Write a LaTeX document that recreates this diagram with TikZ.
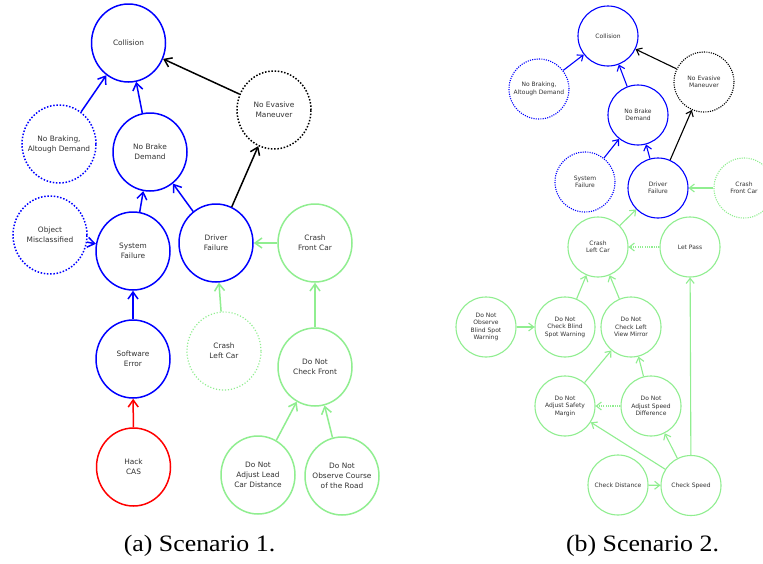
\documentclass[tikz,border=0pt]{standalone}
\usepackage{fontspec}
\setmainfont{Liberation Serif}
\newfontfamily\nodefont{DejaVu Sans}
\usetikzlibrary{shapes.geometric,arrows.meta}
\definecolor{cblue}{RGB}{0,0,255}
\definecolor{cgreen}{RGB}{144,238,144}
\definecolor{cred}{RGB}{255,0,0}
\definecolor{cblack}{RGB}{0,0,0}
\definecolor{txtgray}{RGB}{50,50,50}
\tikzset{
  ltxt/.style={align=center,text=txtgray,inner sep=0pt,font=\nodefont\fontsize{7.4}{10}\selectfont},
  rtxt/.style={align=center,text=txtgray,inner sep=0pt,font=\nodefont\fontsize{6}{7.5}\selectfont},
  L/.style={ellipse,draw,minimum width=74pt,minimum height=78pt,inner sep=0pt,line width=1.5pt,
    label={[ltxt]center:{#1}}},
  R/.style={circle,draw,minimum size=60pt,inner sep=0pt,line width=1.1pt,
    label={[rtxt]center:{#1}}},
  ldot/.style={dash pattern=on 1.5pt off 1.7pt},
  ldotg/.style={dash pattern=on 1.1pt off 1.9pt,line width=1.2pt},
  rdot/.style={dash pattern=on 1.1pt off 1.2pt},
  la/.style={line width=1.5pt,-{Straight Barb[length=7pt,width=10pt]}},
  ra/.style={line width=1.1pt,-{Straight Barb[length=5pt,width=8pt]}},
  captext/.style={anchor=base,inner sep=0pt,font=\fontsize{23.5}{28}\selectfont},
}
\begin{document}
\begin{tikzpicture}[x=1pt,y=-1pt]
\clip (0,0) rectangle (763,563);
\fill[white] (0,0) rectangle (763,563);
% ---------------- Scenario 1 ----------------
\node[L={Collision},draw=cblue] (col) at (128.5,43) {};
\node[L={No Braking,\\Altough Demand},draw=cblue,ldot] (nbd) at (59,144) {};
\node[L={No Evasive\\Maneuver},draw=cblack,ldot] (nev) at (274,110) {};
\node[L={No Brake\\Demand},draw=cblue] (nbr) at (150,152) {};
\node[L={Object\\Misclassified},draw=cblue,ldot] (obj) at (50,235) {};
\node[L={System\\Failure},draw=cblue] (sys) at (133,251) {};
\node[L={Driver\\Failure},draw=cblue] (drv) at (216,243) {};
\node[L={Crash\\Front Car},draw=cgreen] (cfc) at (315,243) {};
\node[L={Software\\Error},draw=cblue] (sw) at (133,359) {};
\node[L={Hack\\CAS},draw=cred] (hack) at (133.5,467) {};
\node[L={Crash\\Left Car},draw=cgreen,ldotg] (clc) at (224,351) {};
\node[L={Do Not\\Check Front},draw=cgreen] (dncf) at (315,367) {};
\node[L={Do Not\\Adjust Lead\\Car Distance},draw=cgreen] (dnal) at (258,475) {};
\node[L={Do Not\\Observe Course\\of the Road},draw=cgreen] (dnoc) at (342,476) {};

\draw[la,cblue] (nbd) -- (col);
\draw[la,cblue] (nbr) -- (col);
\draw[la,cblack] (nev) -- (col);
\draw[la,cblue] (sys) -- (nbr);
\draw[la,cblue] (drv) -- (nbr);
\draw[la,cblack] (drv) -- (nev);
\draw[la,cblue] (obj) -- (sys);
\draw[la,cgreen] (cfc) -- (drv);
\draw[la,cblue] (sw) -- (sys);
\draw[la,cred] (hack) -- (sw);
\draw[la,cgreen] (clc) -- (drv);
\draw[la,cgreen] (dncf) -- (cfc);
\draw[la,cgreen] (dnal) -- (dncf);
\draw[la,cgreen] (dnoc) -- (dncf);

% ---------------- Scenario 2 ----------------
\node[R={Collision},draw=cblue] (Rcol) at (608,36) {};
\node[R={No Braking,\\Altough Demand},draw=cblue,rdot] (Rnbd) at (539,89) {};
\node[R={No Evasive\\Maneuver},draw=cblack,rdot] (Rnev) at (704,82) {};
\node[R={No Brake\\Demand},draw=cblue] (Rnbr) at (638,115) {};
\node[R={System\\Failure},draw=cblue,rdot] (Rsys) at (585,182) {};
\node[R={Driver\\Failure},draw=cblue] (Rdrv) at (658,188) {};
\node[R={Crash\\Front Car},draw=cgreen,rdot] (Rcfc) at (744,188) {};
\node[R={Crash\\Left Car},draw=cgreen] (Rclc) at (598,247) {};
\node[R={Let Pass},draw=cgreen] (Rlp) at (690,247) {};
\node[R={Do Not\\Observe\\Blind Spot\\Warning},draw=cgreen] (Rdnob) at (486,327) {};
\node[R={Do Not\\Check Blind\\Spot Warning},draw=cgreen] (Rdncb) at (565,327) {};
\node[R={Do Not\\Check Left\\View Mirror},draw=cgreen] (Rdncl) at (631,327) {};
\node[R={Do Not\\Adjust Safety\\Margin},draw=cgreen] (Rdnas) at (565,406) {};
\node[R={Do Not\\Adjust Speed\\Difference},draw=cgreen] (Rdnsd) at (651,406) {};
\node[R={Check Distance},draw=cgreen] (Rcd) at (618,485) {};
\node[R={Check Speed},draw=cgreen] (Rcs) at (691,485.5) {};

\draw[ra,cblue] (Rnbd) -- (Rcol);
\draw[ra,cblue] (Rnbr) -- (Rcol);
\draw[ra,cblack] (Rnev) -- (Rcol);
\draw[ra,cblue] (Rsys) -- (Rnbr);
\draw[ra,cblue] (Rdrv) -- (Rnbr);
\draw[ra,cblack] (Rdrv) -- (Rnev);
\draw[ra,cgreen] (Rcfc) -- (Rdrv);
\draw[ra,cgreen] (Rclc) -- (Rdrv);
\draw[ra,cgreen,rdot] (Rlp) -- (Rclc);
\draw[ra,cgreen] (Rdncb) -- (Rclc);
\draw[ra,cgreen] (Rdncl) -- (Rclc);
\draw[ra,cgreen] (Rdnob) -- (Rdncb);
\draw[ra,cgreen] (Rdnas) -- (Rdncl);
\draw[ra,cgreen] (Rdnsd) -- (Rdncl);
\draw[ra,cgreen,rdot] (Rdnsd) -- (Rdnas);
\draw[ra,cgreen] (Rcs) -- (Rdnas);
\draw[ra,cgreen] (Rcs) -- (Rdnsd);
\draw[ra,cgreen] (Rcs) -- (Rlp);
\draw[ra,cgreen] (Rcd) -- (Rcs);

% ---------------- Captions ----------------
\node[captext] (capa) at (199.5,551) {\scalebox{1.1}[1]{(a) Scenario 1.}};
\node[captext] (capb) at (642.5,551) {\scalebox{1.1}[1]{(b) Scenario 2.}};
\end{tikzpicture}
\end{document}
